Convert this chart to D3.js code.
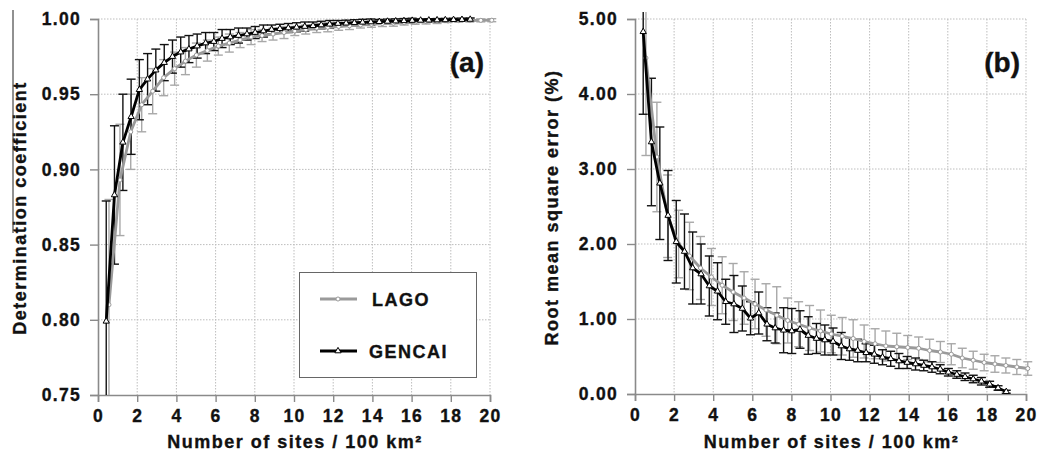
<!DOCTYPE html>
<html lang="en">
<head>
<meta charset="UTF-8">
<title>Site density vs accuracy</title>
<script src="https://d3js.org/d3.v7.min.js"></script>
<style>
  body { margin: 0; background: #fff; }
  svg text { font-family: "Liberation Sans", Arial, sans-serif; font-weight: bold; fill: #111; stroke: #111; stroke-width: 0.35px; }
  .tick-label { font-size: 17.5px; letter-spacing: 1.3px; }
  .axis-title { font-size: 18px; letter-spacing: 1.5px; }
  .panel-tag { font-size: 28px; letter-spacing: 0; }
</style>
</head>
<body>
<svg id="chart" width="1039" height="466"></svg>
<script>
// sites per 100 km2 at which each series was evaluated
const gencaiX = [0.42, 0.84, 1.27, 1.69, 2.11, 2.53, 2.95, 3.38, 3.80, 4.22, 4.64, 5.06, 5.49, 5.91, 6.33,
  6.75, 7.17, 7.60, 8.02, 8.44, 8.86, 9.28, 9.71, 10.13, 10.55, 10.97, 11.39, 11.82, 12.24, 12.66,
  13.08, 13.50, 13.92, 14.35, 14.77, 15.19, 15.61, 16.03, 16.46, 16.88, 17.30, 17.72, 18.14, 18.57, 18.99];
const lagoX = [0.56, 1.12, 1.67, 2.23, 2.79, 3.35, 3.91, 4.46, 5.02, 5.58, 6.14, 6.70, 7.25, 7.81, 8.37,
  8.93, 9.49, 10.04, 10.60, 11.16, 11.72, 12.28, 12.83, 13.39, 13.95, 14.51, 15.07, 15.62, 16.18,
  16.74, 17.30, 17.86, 18.41, 18.97, 19.53, 20.09];

// (a) determination coefficient
const gencaiR2 = [0.799, 0.883, 0.918, 0.935, 0.953, 0.960, 0.966, 0.971, 0.975, 0.978, 0.980, 0.982, 0.984,
  0.985, 0.987, 0.988, 0.989, 0.990, 0.991, 0.992, 0.993, 0.9935, 0.994, 0.9945, 0.995, 0.9955, 0.996,
  0.9965, 0.997, 0.9972, 0.9975, 0.9978, 0.998, 0.9982, 0.9984, 0.9986, 0.9988, 0.999, 0.9991, 0.9992,
  0.9993, 0.9994, 0.9995, 0.9996, 0.9997];
const gencaiR2Err = [0.08, 0.046, 0.032, 0.025, 0.02, 0.017, 0.014, 0.012, 0.011, 0.010, 0.009, 0.008, 0.007,
  0.006, 0.006, 0.005, 0.005, 0.004, 0.004, 0.004, 0.003, 0.003, 0.003, 0.003, 0.003, 0.0025, 0.0025,
  0.0025, 0.002, 0.002, 0.002, 0.002, 0.002, 0.0015, 0.0015, 0.0015, 0.0015, 0.0015, 0.001, 0.001,
  0.001, 0.001, 0.001, 0.001, 0.001];
const lagoR2 = [0.810, 0.893, 0.925, 0.943, 0.952, 0.961, 0.967, 0.972, 0.976, 0.979, 0.982, 0.984, 0.986,
  0.988, 0.989, 0.990, 0.991, 0.992, 0.993, 0.994, 0.9945, 0.995, 0.9955, 0.996, 0.9965, 0.997, 0.9972,
  0.9975, 0.998, 0.9982, 0.9985, 0.9987, 0.9989, 0.999, 0.9991, 0.9992];
const lagoR2Err = [0.07, 0.037, 0.025, 0.018, 0.015, 0.012, 0.011, 0.009, 0.008, 0.007, 0.006, 0.006, 0.005,
  0.005, 0.004, 0.004, 0.004, 0.003, 0.003, 0.003, 0.003, 0.0025, 0.0025, 0.002, 0.002, 0.002, 0.002,
  0.0015, 0.0015, 0.0015, 0.0015, 0.001, 0.001, 0.001, 0.001, 0.001];

// (b) root mean square error (%)
const gencaiRmse = [4.83, 3.36, 2.81, 2.38, 2.03, 1.90, 1.68, 1.60, 1.44, 1.37, 1.23, 1.20, 1.14, 1.01, 1.08,
  0.93, 0.88, 0.85, 0.84, 0.86, 0.78, 0.74, 0.72, 0.70, 0.64, 0.60, 0.58, 0.55, 0.53, 0.49, 0.47, 0.44,
  0.42, 0.40, 0.38, 0.36, 0.33, 0.29, 0.26, 0.23, 0.20, 0.17, 0.13, 0.08, 0.03];
const gencaiRmseErr = [1.1, 0.85, 0.75, 0.6, 0.55, 0.5, 0.48, 0.4, 0.4, 0.38, 0.3, 0.38, 0.3, 0.22, 0.28,
  0.22, 0.2, 0.3, 0.3, 0.25, 0.25, 0.2, 0.2, 0.18, 0.18, 0.15, 0.15, 0.12, 0.12, 0.1, 0.1, 0.1, 0.08,
  0.08, 0.07, 0.07, 0.06, 0.05, 0.05, 0.05, 0.05, 0.05, 0.04, 0.03, 0.02];
const lagoRmse = [4.48, 3.16, 2.37, 2.00, 1.84, 1.68, 1.56, 1.45, 1.36, 1.28, 1.20, 1.12, 1.05, 0.98, 0.93,
  0.88, 0.84, 0.80, 0.77, 0.74, 0.70, 0.67, 0.64, 0.63, 0.62, 0.61, 0.58, 0.56, 0.53, 0.48, 0.45, 0.42,
  0.40, 0.38, 0.36, 0.34];
const lagoRmseErr = [1.3, 0.73, 0.55, 0.45, 0.45, 0.42, 0.38, 0.38, 0.38, 0.35, 0.33, 0.35, 0.38, 0.3, 0.3,
  0.3, 0.28, 0.25, 0.25, 0.25, 0.22, 0.2, 0.2, 0.18, 0.16, 0.15, 0.15, 0.14, 0.14, 0.13, 0.12, 0.11,
  0.11, 0.1, 0.1, 0.09];

const xTicks = [0, 2, 4, 6, 8, 10, 12, 14, 16, 18, 20];
const r2Ticks = [0.75, 0.80, 0.85, 0.90, 0.95, 1.00];
const rmseTicks = [0, 1, 2, 3, 4, 5];

const svg = d3.select("#chart");
const lagoColor = "#9a9a9a";
const gencaiColor = "#000";

function zip(xs, ys, es) {
  return xs.map((x, i) => ({ x: x, y: ys[i], e: es[i] }));
}

function drawPanel(p) {
  const x = d3.scaleLinear().domain([0, 20]).range([p.left, p.right]);
  const y = d3.scaleLinear().domain(p.yDomain).range([p.bottom, p.top]);
  const g = svg.append("g");

  // dotted grid
  g.selectAll(".gx").data(xTicks.slice(1)).enter().append("line")
    .attr("x1", d => x(d)).attr("x2", d => x(d))
    .attr("y1", p.top).attr("y2", p.bottom)
    .attr("stroke", "#bdbdbd").attr("stroke-dasharray", "1.5,1.5");
  g.selectAll(".gy").data(p.yTicks.slice(1)).enter().append("line")
    .attr("x1", p.left).attr("x2", p.right)
    .attr("y1", d => y(d)).attr("y2", d => y(d))
    .attr("stroke", "#bdbdbd").attr("stroke-dasharray", "1.5,1.5");

  // axes
  const xAxis = g.append("g").attr("transform", `translate(0,${p.bottom})`)
    .call(d3.axisBottom(x).tickValues(xTicks).tickSize(7).tickPadding(8).tickFormat(d3.format("d")));
  const yAxis = g.append("g").attr("transform", `translate(${p.left},0)`)
    .call(d3.axisLeft(y).tickValues(p.yTicks).tickSize(8).tickPadding(7).tickFormat(d3.format(".2f")));
  [xAxis, yAxis].forEach(a => {
    a.select(".domain").attr("stroke", "#8a8a8a").attr("stroke-width", 1.6);
    a.selectAll(".tick line").attr("stroke", "#8a8a8a").attr("stroke-width", 1.4);
    a.selectAll(".tick text").attr("class", "tick-label").attr("fill", "#111");
    a.attr("font-family", null).attr("font-size", null);
  });
  yAxis.selectAll(".tick text").attr("dx", "-2");

  const clipId = "clip" + p.tag.replace(/\W/g, "");
  svg.append("clipPath").attr("id", clipId).append("rect")
    .attr("x", p.left - 4).attr("y", p.top - 7)
    .attr("width", p.right - p.left + 14).attr("height", p.bottom - p.top + 7);
  const plot = g.append("g").attr("clip-path", `url(#${clipId})`);

  const series = [
    { data: zip(lagoX, p.lago, p.lagoErr), color: lagoColor, errColor: "#a8a8a8", marker: "circle" },
    { data: zip(gencaiX, p.gencai, p.gencaiErr), color: gencaiColor, errColor: "#111", marker: "triangle" }
  ];

  const line = d3.line().x(d => x(d.x)).y(d => y(d.y));

  series.forEach(s => {
    const eb = plot.append("g").attr("stroke", s.errColor).attr("stroke-width", 1.4);
    eb.selectAll(".v").data(s.data).enter().append("line")
      .attr("x1", d => x(d.x)).attr("x2", d => x(d.x))
      .attr("y1", d => y(d.y - d.e)).attr("y2", d => y(d.y + d.e));
    eb.selectAll(".t").data(s.data).enter().append("line")
      .attr("x1", d => x(d.x) - 4.5).attr("x2", d => x(d.x) + 4.5)
      .attr("y1", d => y(d.y + d.e)).attr("y2", d => y(d.y + d.e));
    eb.selectAll(".b").data(s.data).enter().append("line")
      .attr("x1", d => x(d.x) - 4.5).attr("x2", d => x(d.x) + 4.5)
      .attr("y1", d => y(d.y - d.e)).attr("y2", d => y(d.y - d.e));
  });

  series.forEach(s => {
    plot.append("path").datum(s.data)
      .attr("d", line).attr("fill", "none")
      .attr("stroke", s.color).attr("stroke-width", 2.8).attr("stroke-linejoin", "round");
    const sym = s.marker === "circle" ? d3.symbolCircle : d3.symbolTriangle;
    const size = s.marker === "circle" ? 13 : 17;
    plot.selectAll(null).data(s.data).enter().append("path")
      .attr("d", d3.symbol().type(sym).size(size))
      .attr("transform", d => `translate(${x(d.x)},${y(d.y)})`)
      .attr("fill", "#fff").attr("stroke", s.color).attr("stroke-width", 1);
  });

  // titles
  svg.append("text").attr("class", "axis-title")
    .attr("x", (p.left + p.right) / 2 + 1).attr("y", 448).attr("text-anchor", "middle")
    .text("Number of sites / 100 km²");
  svg.append("text").attr("class", "axis-title")
    .attr("transform", `translate(${p.yTitleX},${(p.top + p.bottom) / 2 + 1}) rotate(-90)`)
    .attr("text-anchor", "middle")
    .text(p.yTitle);
  svg.append("text").attr("class", "panel-tag")
    .attr("x", p.right - 6).attr("y", 72).attr("text-anchor", "end")
    .text(p.tag);
}

drawPanel({
  left: 98, right: 490, top: 19, bottom: 395,
  yDomain: [0.75, 1.0], yTicks: r2Ticks,
  lago: lagoR2, lagoErr: lagoR2Err, gencai: gencaiR2, gencaiErr: gencaiR2Err,
  yTitle: "Determination coefficient", yTitleX: 26, tag: "(a)"
});

drawPanel({
  left: 635, right: 1026, top: 19, bottom: 394,
  yDomain: [0, 5], yTicks: rmseTicks,
  lago: lagoRmse, lagoErr: lagoRmseErr, gencai: gencaiRmse, gencaiErr: gencaiRmseErr,
  yTitle: "Root mean square error (%)", yTitleX: 558, tag: "(b)"
});

// thin edge line at the far left of the figure
svg.append("line").attr("x1", 13).attr("x2", 13).attr("y1", 10).attr("y2", 233)
  .attr("stroke", "#222").attr("stroke-width", 1);

// legend in panel (a)
const legend = svg.append("g");
legend.append("rect").attr("x", 299.5).attr("y", 272.5).attr("width", 177).attr("height", 105)
  .attr("fill", "#fff").attr("stroke", "#666").attr("stroke-width", 1);
const legendItems = [
  { name: "LAGO", color: lagoColor, marker: d3.symbolCircle, size: 13, y: 299, tx: 372 },
  { name: "GENCAI", color: gencaiColor, marker: d3.symbolTriangle, size: 17, y: 351, tx: 369 }
];
legendItems.forEach(it => {
  legend.append("line").attr("x1", 320).attr("x2", 357).attr("y1", it.y).attr("y2", it.y)
    .attr("stroke", it.color).attr("stroke-width", 2.8);
  legend.append("path").attr("d", d3.symbol().type(it.marker).size(it.size))
    .attr("transform", `translate(338,${it.y})`)
    .attr("fill", "#fff").attr("stroke", it.color).attr("stroke-width", 1);
  legend.append("text").attr("class", "axis-title").attr("x", it.tx).attr("y", it.y + 6.5)
    .text(it.name);
});
</script>
</body>
</html>
